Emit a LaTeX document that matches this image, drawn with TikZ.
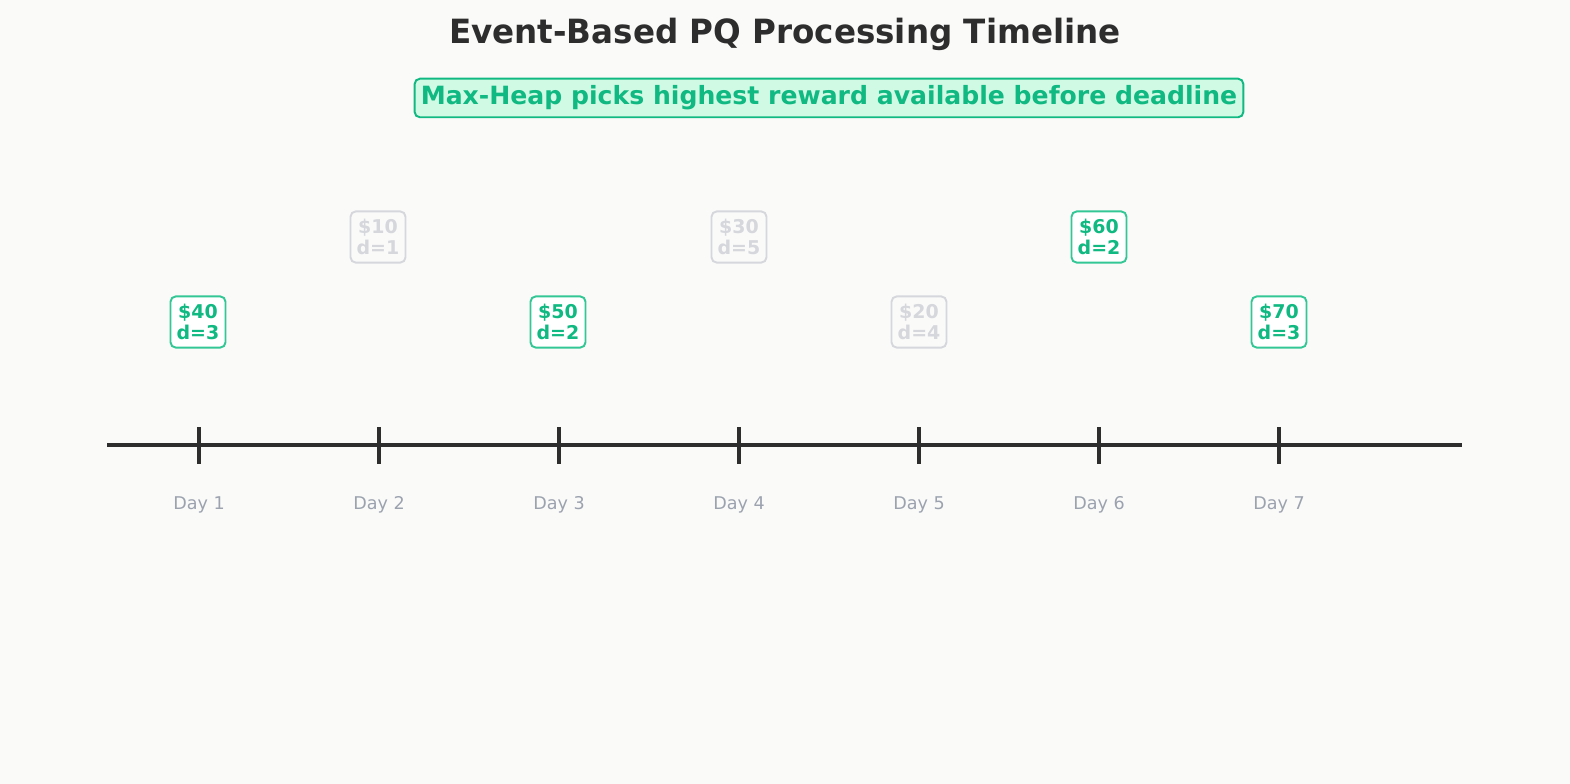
\documentclass[tikz,border=0pt]{standalone}
\usepackage{fontspec}
\setmainfont{DejaVu Sans}
\newfontfamily\headfont{DejaVu Sans}[FakeStretch=0.975]
\usetikzlibrary{positioning}
\definecolor{bgc}{HTML}{FAFAF9}
\definecolor{inkc}{HTML}{2D2D2D}
\definecolor{pickc}{HTML}{10B981}
\definecolor{pickline}{HTML}{34C796}
\definecolor{pickfill}{HTML}{D1FAE5}
\definecolor{skipc}{HTML}{D5D7DC}
\definecolor{dayc}{HTML}{9CA3AF}

\begin{document}
\begin{tikzpicture}[
  x=0.02cm, y=-0.02cm,
  line width=1pt,
  title/.style={font=\headfont\fontsize{19pt}{22pt}\selectfont\bfseries, text=inkc},
  note/.style={rectangle, rounded corners=3pt, draw=pickc, fill=pickfill, text=pickc, line width=1.1pt,
    font=\fontsize{14.3pt}{16pt}\selectfont\bfseries, inner xsep=3.5pt, inner ysep=4pt},
  taken/.style={rectangle, rounded corners=3pt, draw=pickline, fill=white, text=pickc, line width=1.1pt,
    font=\fontsize{10.8pt}{12.4pt}\selectfont\bfseries, align=center, inner xsep=3.5pt, inner ysep=4.2pt},
  skipped/.style={taken, draw=skipc, text=skipc, fill=bgc},
  daylbl/.style={font=\fontsize{10pt}{12pt}\selectfont, text=dayc},
  tick/.style={inkc, line width=2.2pt}
]

\fill[bgc] (0,0) rectangle (1570,784);
\useasboundingbox (0,0) rectangle (1570,784);

\node[title] (head) at (785,34) {Event-Based PQ Processing Timeline};
\node[note] (rule) at (829,98) {Max-Heap picks highest reward available before deadline};

\coordinate (axisL) at (107,445);
\coordinate (axisR) at (1462,445);
\draw[inkc, line width=2.3pt] (axisL) -- (axisR);

\foreach \d in {1,...,7} {
  \coordinate (t\d) at (19+180*\d,445);
  \draw[tick] (19+180*\d,427) -- (19+180*\d,464);
  \node[daylbl] (day\d) at (19+180*\d,505) {Day~\d};
}

\node[taken]   (j1) at (198,322) {\$40\\d=3};
\node[skipped] (j2) at (378,237) {\$10\\d=1};
\node[taken]   (j3) at (558,322) {\$50\\d=2};
\node[skipped] (j4) at (739,237) {\$30\\d=5};
\node[skipped] (j5) at (919,322) {\$20\\d=4};
\node[taken]   (j6) at (1099,237) {\$60\\d=2};
\node[taken]   (j7) at (1279,322) {\$70\\d=3};

\end{tikzpicture}
\end{document}
